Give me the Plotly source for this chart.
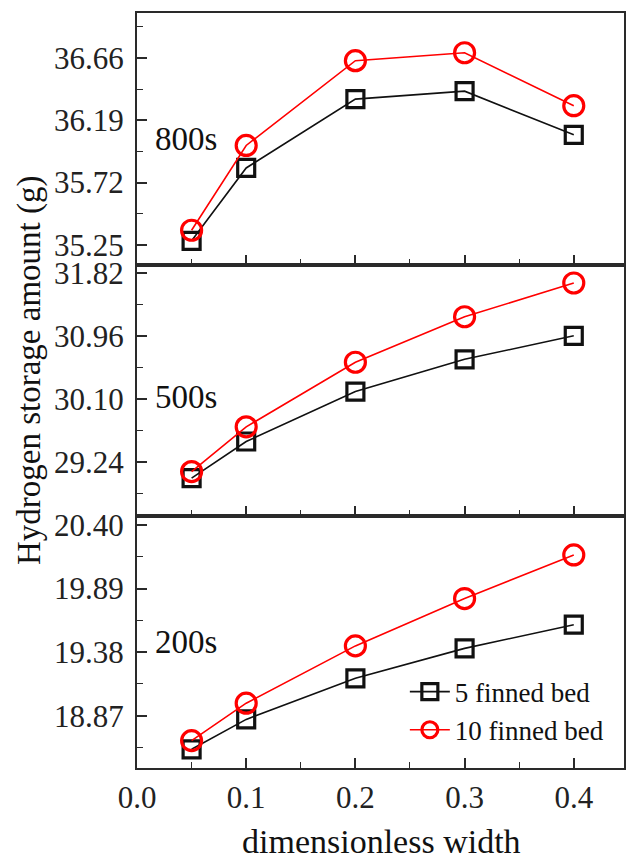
import plotly.graph_objects as go
from plotly.subplots import make_subplots

# Data
x_width = [0.05, 0.1, 0.2, 0.3, 0.4]

t800_5fin = [35.28, 35.83, 36.35, 36.41, 36.08]
t800_10fin = [35.36, 36.00, 36.64, 36.70, 36.30]

t500_5fin = [29.02, 29.52, 30.20, 30.64, 30.96]
t500_10fin = [29.11, 29.72, 30.60, 31.22, 31.68]

t200_5fin = [18.60, 18.84, 19.17, 19.41, 19.60]
t200_10fin = [18.67, 18.97, 19.43, 19.81, 20.16]

panel_labels = ["800s", "500s", "200s"]
y_ticks = [
    [35.25, 35.72, 36.19, 36.66],
    [29.24, 30.10, 30.96, 31.82],
    [18.87, 19.38, 19.89, 20.40],
]
y_ranges = [[35.10, 37.00], [28.50, 31.93], [18.45, 20.47]]
label_y = [36.05, 30.13, 19.46]

series_names = ["5 finned bed", "10 finned bed"]
panels = [
    (t800_5fin, t800_10fin),
    (t500_5fin, t500_10fin),
    (t200_5fin, t200_10fin),
]

FONT = "Liberation Serif"
AX = "#2a2a2a"
BLACK = "#111111"
RED = "#ff0000"

fig = make_subplots(rows=3, cols=1, shared_xaxes=True, vertical_spacing=0)

for i, (s5, s10) in enumerate(panels):
    row = i + 1
    fig.add_trace(go.Scatter(
        x=x_width, y=s5, mode="lines+markers", name=series_names[0],
        line=dict(color=BLACK, width=1.6),
        marker=dict(symbol="square-open", size=17, color=BLACK,
                    line=dict(width=3.2, color=BLACK)),
        showlegend=(row == 3), legendrank=1,
    ), row=row, col=1)
    fig.add_trace(go.Scatter(
        x=x_width, y=s10, mode="lines+markers", name=series_names[1],
        line=dict(color=RED, width=1.6),
        marker=dict(symbol="circle-open", size=20, color=RED,
                    line=dict(width=3.2, color=RED)),
        showlegend=(row == 3), legendrank=2,
    ), row=row, col=1)

for i in range(3):
    row = i + 1
    ticks = y_ticks[i]
    step = ticks[1] - ticks[0]
    fig.update_yaxes(
        range=y_ranges[i], tickmode="array", tickvals=ticks,
        ticktext=[f"{v:.2f}" for v in ticks],
        ticks="inside", ticklen=10, tickwidth=1.6, tickcolor=AX,
        showline=True, linecolor=AX, linewidth=2, mirror=True,
        showgrid=False, zeroline=False,
        tickfont=dict(family=FONT, size=31, color="#222"),
        ticklabelstandoff=5,
        minor=dict(ticks="inside", ticklen=6, tickwidth=1.4, tickcolor=AX,
                   tick0=ticks[0] - step / 2, dtick=step / 2, showgrid=False),
        row=row, col=1,
    )
    fig.update_xaxes(
        range=[0, 0.446], tickmode="linear", tick0=0, dtick=0.1,
        ticks="inside", ticklen=10, tickwidth=1.6, tickcolor=AX,
        showline=True, linecolor=AX, linewidth=2, mirror=True,
        showgrid=False, zeroline=False,
        showticklabels=(row == 3), tickformat=".1f",
        tickfont=dict(family=FONT, size=31, color="#222"),
        ticklabelstandoff=1,
        minor=dict(ticks="inside", ticklen=6, tickwidth=1.4, tickcolor=AX,
                   tick0=0, dtick=0.05, showgrid=False),
        row=row, col=1,
    )
    yref = "y" if row == 1 else f"y{row}"
    xref = "x" if row == 1 else f"x{row}"
    fig.add_annotation(
        x=0.0145, y=label_y[i], xref=xref, yref=yref, text=panel_labels[i],
        showarrow=False, xanchor="left", yanchor="middle",
        font=dict(family=FONT, size=33, color="#111"),
    )

fig.add_annotation(
    x=0.503, y=-0.098, xref="paper", yref="paper", text="dimensionless width",
    showarrow=False, xanchor="center", yanchor="middle",
    font=dict(family=FONT, size=34, color="#111"),
)
fig.add_annotation(
    x=-0.222, y=0.527, xref="paper", yref="paper",
    text="Hydrogen storage amount (g)", textangle=-90,
    showarrow=False, xanchor="center", yanchor="middle",
    font=dict(family=FONT, size=33, color="#111"),
)

fig.update_layout(
    width=627, height=860,
    margin=dict(l=137, r=1, t=13, b=92),
    paper_bgcolor="white", plot_bgcolor="white",
    showlegend=True,
    legend=dict(
        x=0.55, y=0.133, xanchor="left", yanchor="top",
        bgcolor="rgba(0,0,0,0)", borderwidth=0,
        font=dict(family=FONT, size=27, color="#111"),
        tracegroupgap=0, itemwidth=40,
    ),
)

fig.write_html("out.html")
